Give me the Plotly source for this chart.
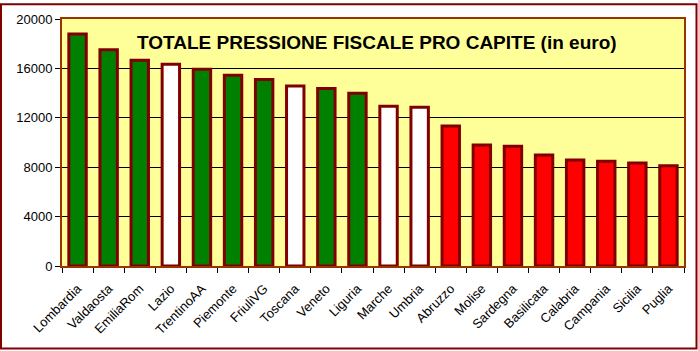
import plotly.graph_objects as go

regions = ["Lombardia", "Valdaosta", "EmiliaRom", "Lazio", "TrentinoAA", "Piemonte",
           "FriuliVG", "Toscana", "Veneto", "Liguria", "Marche", "Umbria", "Abruzzo",
           "Molise", "Sardegna", "Basilicata", "Calabria", "Campania", "Sicilia", "Puglia"]
values = [18780, 17520, 16650, 16330, 15930, 15450, 15100, 14570, 14380, 13980,
          12940, 12860, 11340, 9790, 9690, 8990, 8590, 8490, 8330, 8110]
groups = ["G", "G", "G", "W", "G", "G", "G", "W", "G", "G", "W", "W", "R",
          "R", "R", "R", "R", "R", "R", "R"]
group_colors = {"G": "#008000", "W": "#FFFFFF", "R": "#FF0000"}
y_ticks = [0, 4000, 8000, 12000, 16000, 20000]
y_tick_labels = ["0", "4000", "8000", "12000", "16000", "20000"]
title_text = "TOTALE PRESSIONE FISCALE PRO CAPITE (in euro)"

FONT = "Liberation Sans, Arial, sans-serif"
W, H = 698, 351
L, R, T, B = 62, 14, 16, 85

fig = go.Figure()
fig.add_trace(go.Bar(
    x=regions, y=values,
    marker=dict(color=[group_colors[g] for g in groups],
                line=dict(color="#800000", width=3)),
    width=0.56,
))

pw = W - L - R
ph = H - T - B
fig.add_shape(type="rect", xref="paper", yref="paper",
              x0=(1 - L) / pw, x1=(W - 1.5 - L) / pw,
              y0=(H - B - (H - 1.5)) / ph, y1=(H - B - 1) / ph,
              line=dict(color="#800000", width=2), layer="above")

fig.add_annotation(text="<b>" + title_text + "</b>", xref="paper", yref="paper",
                   x=0.506, y=(H - B - 40) / ph, yanchor="middle", xanchor="center",
                   showarrow=False,
                   font=dict(family=FONT, size=19, color="black"))

fig.update_layout(
    width=W, height=H,
    margin=dict(l=L, r=R, t=T, b=B),
    paper_bgcolor="white",
    plot_bgcolor="#FFFF99",
    showlegend=False,
    font=dict(family=FONT, size=13, color="black"),
)
fig.update_xaxes(
    type="category", tickangle=-45, ticks="outside", ticklen=5, tickcolor="black",
    tickson="boundaries", showline=True, linecolor="#993300", linewidth=2, mirror=True,
    tickfont=dict(family=FONT, size=13, color="black"), showgrid=False,
    ticklabelstandoff=8,
)
fig.update_yaxes(
    range=[0, 20000], tickvals=y_ticks, ticktext=y_tick_labels,
    ticks="outside", ticklen=5, tickcolor="black",
    showline=True, linecolor="#993300", linewidth=2, mirror=True,
    showgrid=True, gridcolor="black", gridwidth=1, zeroline=False,
    tickfont=dict(family=FONT, size=13, color="black"),
)

fig.write_html("out.html")
